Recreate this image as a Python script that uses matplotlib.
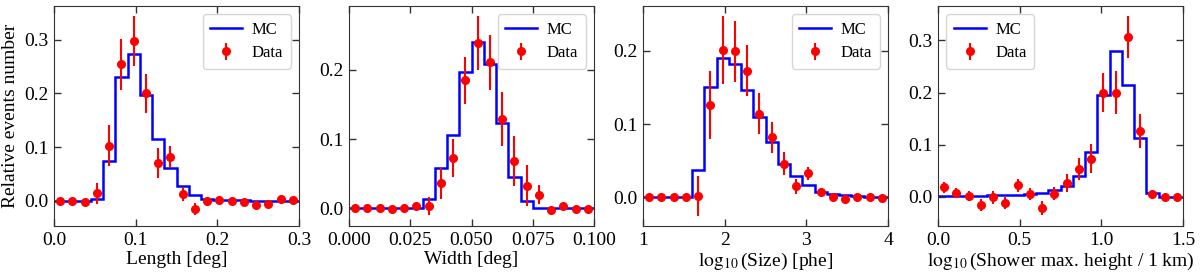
import numpy as np
import matplotlib
matplotlib.use("Agg")
import matplotlib.pyplot as plt
from matplotlib.ticker import FormatStrFormatter

plt.rcParams['font.family'] = ['Liberation Serif', 'DejaVu Serif']
plt.rcParams['mathtext.fontset'] = 'stix'

# ---- Panel 1: Length ----
length_edges = np.linspace(0.0, 0.3, 21)
length_mc = [0, 0, 0, 0.003, 0.074, 0.23, 0.274, 0.197, 0.116, 0.062,
             0.027, 0.011, 0.004, 0.002, 0.001, 0.001, 0, 0, 0, 0]
length_data = [0.0, 0.0, -0.003, 0.014, 0.103, 0.254, 0.298, 0.2, 0.07, 0.082,
               0.013, -0.016, -0.001, 0.002, -0.001, -0.003, -0.007, -0.006, 0.004, 0.001]
length_err = [0.003, 0.003, 0.004, 0.02, 0.038, 0.048, 0.047, 0.037, 0.028, 0.02,
              0.013, 0.011, 0.008, 0.005, 0.004, 0.004, 0.004, 0.004, 0.004, 0.003]

# ---- Panel 2: Width ----
width_edges = np.linspace(0.0, 0.1, 21)
width_mc = [0, 0, 0, 0, 0, 0.001, 0.013, 0.058, 0.106, 0.197,
            0.24, 0.208, 0.123, 0.045, 0.01, 0.001, 0, 0, 0, 0]
width_data = [0.0, 0.0, 0.0, -0.001, 0.0, 0.003, 0.003, 0.036, 0.073, 0.185,
              0.239, 0.211, 0.129, 0.069, 0.033, 0.02, -0.003, 0.004, -0.001, -0.001]
width_err = [0.002, 0.002, 0.002, 0.003, 0.003, 0.004, 0.013, 0.023, 0.027, 0.034,
             0.039, 0.04, 0.039, 0.036, 0.029, 0.014, 0.007, 0.004, 0.003, 0.003]

# ---- Panel 3: log10(Size) ----
size_edges = np.linspace(1.0, 4.0, 21)
size_mc = [0, 0, 0, 0, 0.037, 0.15, 0.19, 0.182, 0.147, 0.109,
           0.075, 0.045, 0.029, 0.017, 0.008, 0.005, 0.003, 0.002, 0.001, 0.0]
size_data = [0.0, 0.0, 0.0, 0.0, 0.002, 0.126, 0.201, 0.199, 0.173, 0.114,
             0.082, 0.046, 0.015, 0.033, 0.008, 0.001, -0.002, 0.0, 0.0, -0.001]
size_err = [0.002, 0.002, 0.002, 0.002, 0.027, 0.047, 0.046, 0.041, 0.035, 0.028,
            0.021, 0.016, 0.01, 0.009, 0.005, 0.004, 0.003, 0.003, 0.003, 0.003]

# ---- Panel 4: log10(Shower max height) ----
height_edges = np.linspace(0.0, 1.5, 21)
height_mc = [0.001, 0.001, 0.002, 0.002, 0.003, 0.003, 0.003, 0.006, 0.008, 0.013,
             0.02, 0.04, 0.086, 0.195, 0.28, 0.214, 0.113, 0.008, 0.0, 0.0]
height_data = [0.018, 0.008, 0.002, -0.016, -0.001, -0.012, 0.022, 0.005, -0.021, 0.006,
               0.026, 0.054, 0.073, 0.2, 0.2, 0.307, 0.126, 0.005, 0.0, 0.0]
height_err = [0.01, 0.008, 0.01, 0.012, 0.012, 0.012, 0.013, 0.012, 0.013, 0.012,
              0.017, 0.021, 0.028, 0.038, 0.041, 0.04, 0.033, 0.006, 0.003, 0.003]

panels = [
    (length_edges, length_mc, length_data, length_err, 'Length [deg]',
     (0.0, 0.3), (-0.047, 0.363), [0.0, 0.1, 0.2, 0.3], [0.0, 0.1, 0.2, 0.3], 'upper right', '%.1f'),
    (width_edges, width_mc, width_data, width_err, 'Width [deg]',
     (0.0, 0.1), (-0.0255, 0.2925), [0.0, 0.025, 0.05, 0.075, 0.1], [0.0, 0.1, 0.2], 'upper right', '%.3f'),
    (size_edges, size_mc, size_data, size_err, r'$\log_{10}$(Size) [phe]',
     (1.0, 4.0), (-0.039, 0.261), [1, 2, 3, 4], [0.0, 0.1, 0.2], 'upper right', '%d'),
    (height_edges, height_mc, height_data, height_err,
     r'$\log_{10}$(Shower max. height / 1 km)',
     (0.0, 1.5), (-0.056, 0.366), [0.0, 0.5, 1.0, 1.5], [0.0, 0.1, 0.2, 0.3], 'upper left', '%.1f'),
]

fig = plt.figure(figsize=(12, 2.78), dpi=100)
lefts = [54, 349, 643, 938]
for i, (edges, mc, data, err, xlabel, xlim, ylim, xt, yt, loc, fmt) in enumerate(panels):
    ax = fig.add_axes([lefts[i] / 1200, 1 - 226 / 278, 245 / 1200, 220 / 278])
    centers = 0.5 * (edges[:-1] + edges[1:])
    ax.stairs(mc, edges, baseline=None, color='blue', linewidth=1.8, label='MC')
    ax.errorbar(centers, data, yerr=err, fmt='o', color='red', markersize=5.5,
                elinewidth=1.5, capsize=0, label='Data')
    ax.set_xlim(*xlim)
    ax.set_ylim(*ylim)
    ax.set_xticks(xt)
    ax.set_yticks(yt)
    ax.xaxis.set_major_formatter(FormatStrFormatter(fmt))
    ax.yaxis.set_major_formatter(FormatStrFormatter('%.1f'))
    ax.tick_params(direction='in', top=True, right=True, length=5, width=1,
                   labelsize=14, color='#333333', pad=4)
    for s in ax.spines.values():
        s.set_color('#333333')
    ax.set_xlabel(xlabel, fontsize=14, labelpad=2)
    if i == 0:
        ax.set_ylabel('Relative events number', fontsize=14, labelpad=4)
    ax.legend(loc=loc, fontsize=12, handlelength=1.9, borderpad=0.45,
              labelspacing=0.45, handletextpad=0.6,
              framealpha=0.8, edgecolor='#cccccc')

fig.savefig('out.png', dpi=100)
